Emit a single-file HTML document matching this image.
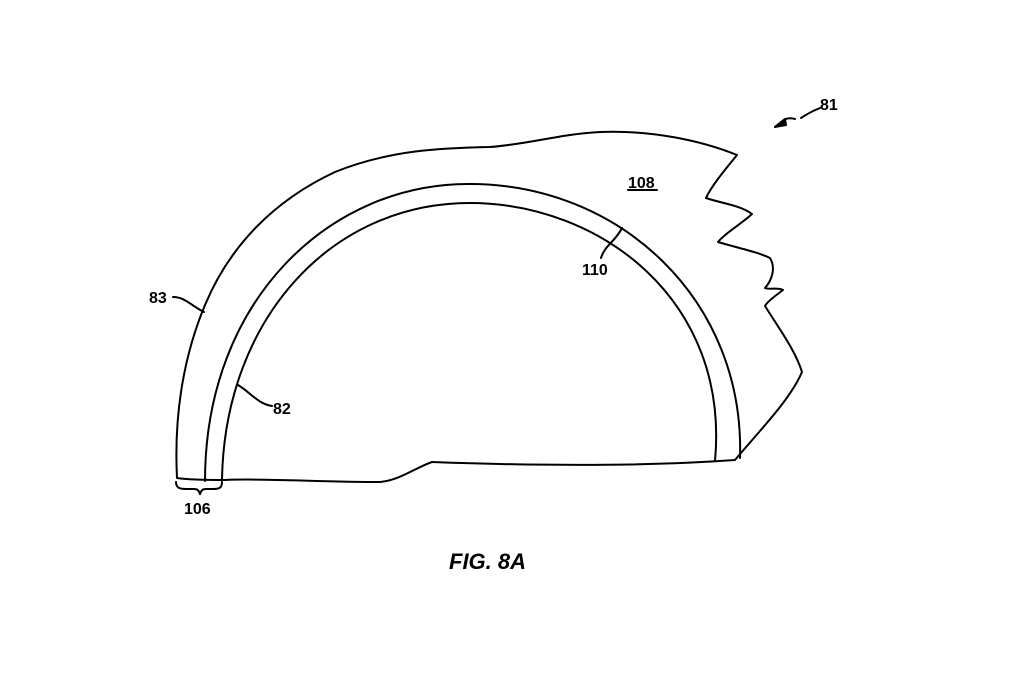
<!DOCTYPE html>
<html><head><style>body{margin:0;background:#fff}svg{display:block}text{font-family:"Liberation Sans",sans-serif;font-weight:bold;fill:#000}</style></head>
<body>
<svg width="1024" height="674" viewBox="0 0 1024 674" xmlns="http://www.w3.org/2000/svg">
<g fill="none" stroke="#000" stroke-width="2" stroke-linejoin="round" stroke-linecap="round">
<!-- outer body -->
<path d="M177,478 C174,420 182,360 205,305 C230,245 275,200 335,172 C390,150 440,148 490,147 C530,144 560,134 600,132 C650,130 700,140 737,155 C725,170 712,185 706,198 C720,203 740,205 752,214 C740,225 725,233 718,242 C738,248 758,252 770,258 C776,268 772,280 765,288 C770,290 778,287 783,290 C775,296 767,302 765,306 C780,330 795,350 802,372 C790,400 760,430 735,460 C650,466 540,466 432,462 C415,468 400,480 380,482 C320,482 260,478 225,480 C210,480 190,480 177,478 Z"/>
<!-- inner band -->
<path d="M205,481 C205,300 330,183 470,184 C620,184 745,300 740,458"/>
<path d="M222,479 C225,320 330,203 470,203 C600,203 730,300 715,461"/>
<!-- leaders -->
<path d="M795,119 C785,116 782,122 775,127"/>
<path d="M775,127 l10,-8 l1,6 z" fill="#000"/>
<path d="M801,118 C810,112 815,110 820,108"/>
<path d="M173,297 C185,297 190,305 204,312"/>
<path d="M272,406 C258,404 250,392 238,385"/>
<path d="M601,258 C605,245 615,242 622,228"/>
<path d="M176,482 C176,488 180,489 186,489 L194,489 C198,489 199,491 200,494 C201,491 202,489 206,489 L214,489 C220,489 222,487 222,482"/>
<path d="M628,190 L657,190"/>
</g>
<text x="820" y="110" font-size="16">81</text>
<text x="628" y="188" font-size="16">108</text>
<text x="582" y="275" font-size="16">110</text>
<text x="149" y="303" font-size="16">83</text>
<text x="273" y="414" font-size="16">82</text>
<text x="184" y="514" font-size="16">106</text>
<text x="449" y="569" font-size="22" font-style="italic">FIG. 8A</text>
</svg>
</body></html>
